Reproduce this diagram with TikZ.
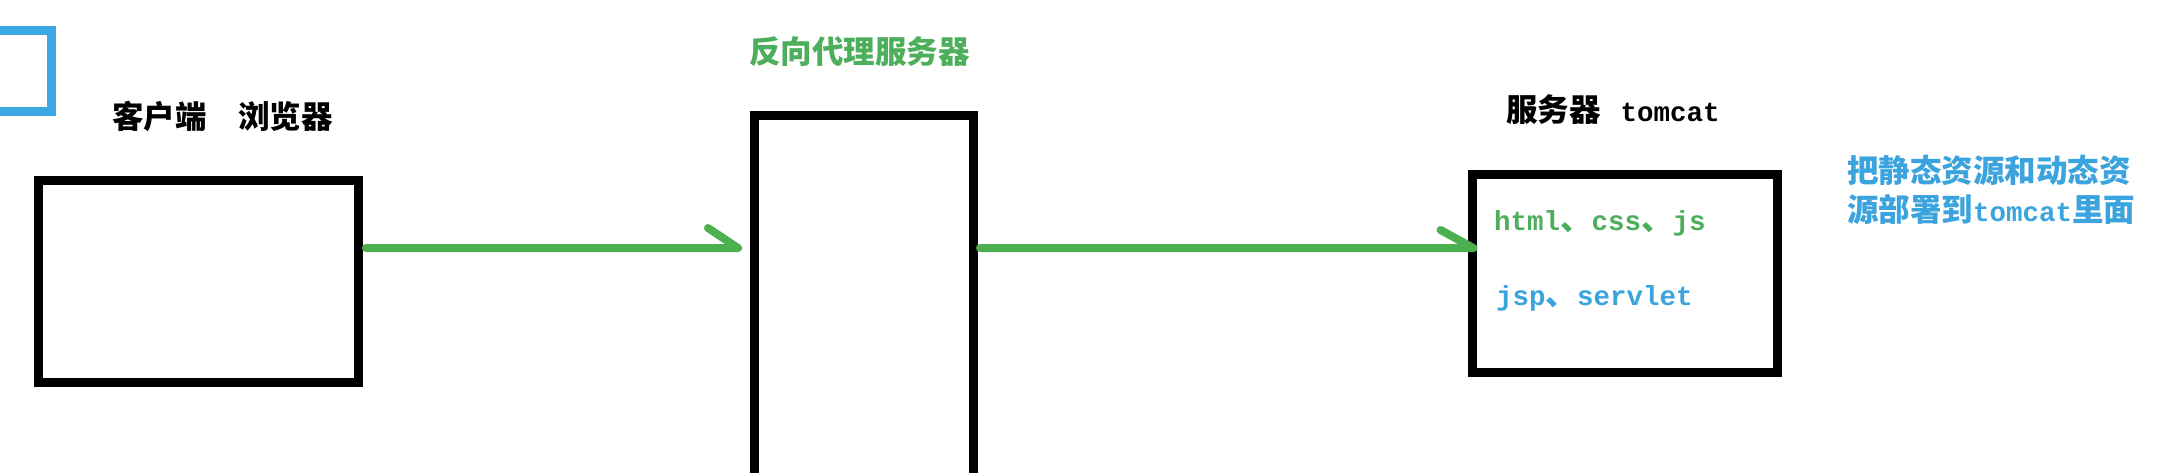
\documentclass[tikz,border=0pt]{standalone}
\usepackage{fontspec}
\newfontfamily\cjk{Noto Sans CJK SC}
\newfontfamily\mono{Liberation Mono}
\definecolor{flowgreen}{HTML}{4CB050}
\definecolor{textgreen}{HTML}{4DAF5B}
\definecolor{textblue}{HTML}{3BA3DD}
\definecolor{boxblue}{HTML}{3CA8E3}
\newcommand\lat[1]{{\mono\bfseries\fontsize{27.5}{30}\selectfont #1}}
\tikzset{
  box/.style={draw=black, line width=9pt, fill=white, inner sep=0pt, rectangle},
  lbl/.style={inner sep=0pt, outer sep=0pt, font=\cjk\bfseries\fontsize{31.5}{39}\selectfont},
  flow/.style={draw=flowgreen, line width=8pt, line cap=round, line join=round},
}
\begin{document}
\begin{tikzpicture}[x=1pt, y=-1pt]
  \clip (0,0) rectangle (2168,472);
  \fill[white] (0,0) rectangle (2168,472);
  % left partial blue frame
  \node[box, draw=boxblue, minimum width=140, minimum height=80.5] (side) at (-18.5,70.75) {};
  % client
  \node[box, minimum width=320, minimum height=202] (client) at (198.5,281.5) {};
  \node[lbl, anchor=base west] (clientlbl) at (112,128) {客户端\hspace{32pt}浏览器};
  % proxy
  \node[box, minimum width=219, minimum height=440, anchor=north] (proxy) at (864,111) {};
  \node[lbl, anchor=base west, text=textgreen] (proxylbl) at (749,63) {反向代理服务器};
  % server
  \node[box, minimum width=305.5, minimum height=197.5] (server) at (1624.75,273.25) {};
  \node[lbl, anchor=base west] (serverlbl) at (1506,121) {服务器\hspace{20pt}\lat{tomcat}};
  \node[lbl, anchor=base west, text=textgreen] (static) at (1494,230) {\lat{html}、\lat{css}、\lat{js}};
  \node[lbl, anchor=base west, text=textblue] (dynamic) at (1496,305) {\lat{jsp}、\lat{servlet}};
  % note (base anchor = baseline of the last line)
  \node[lbl, anchor=base west, text=textblue, align=left] (note) at (1847,221) {把静态资源和动态资\\源部署到\lat{tomcat}里面};
  % connectors
  \coordinate (a1s) at ([shift={(3,-33.5)}]client.east);
  \coordinate (a1t) at ([xshift=-12pt]proxy.west |- a1s);
  \draw[flow] (a1s) -- (a1t) -- ++(-30,-20);
  \coordinate (a2s) at ([xshift=2pt]proxy.east |- a1s);
  \coordinate (a2t) at ([xshift=6pt]server.west |- a1s);
  \draw[flow] (a2s) -- (a2t) -- ++(-33,-18);
\end{tikzpicture}
\end{document}
